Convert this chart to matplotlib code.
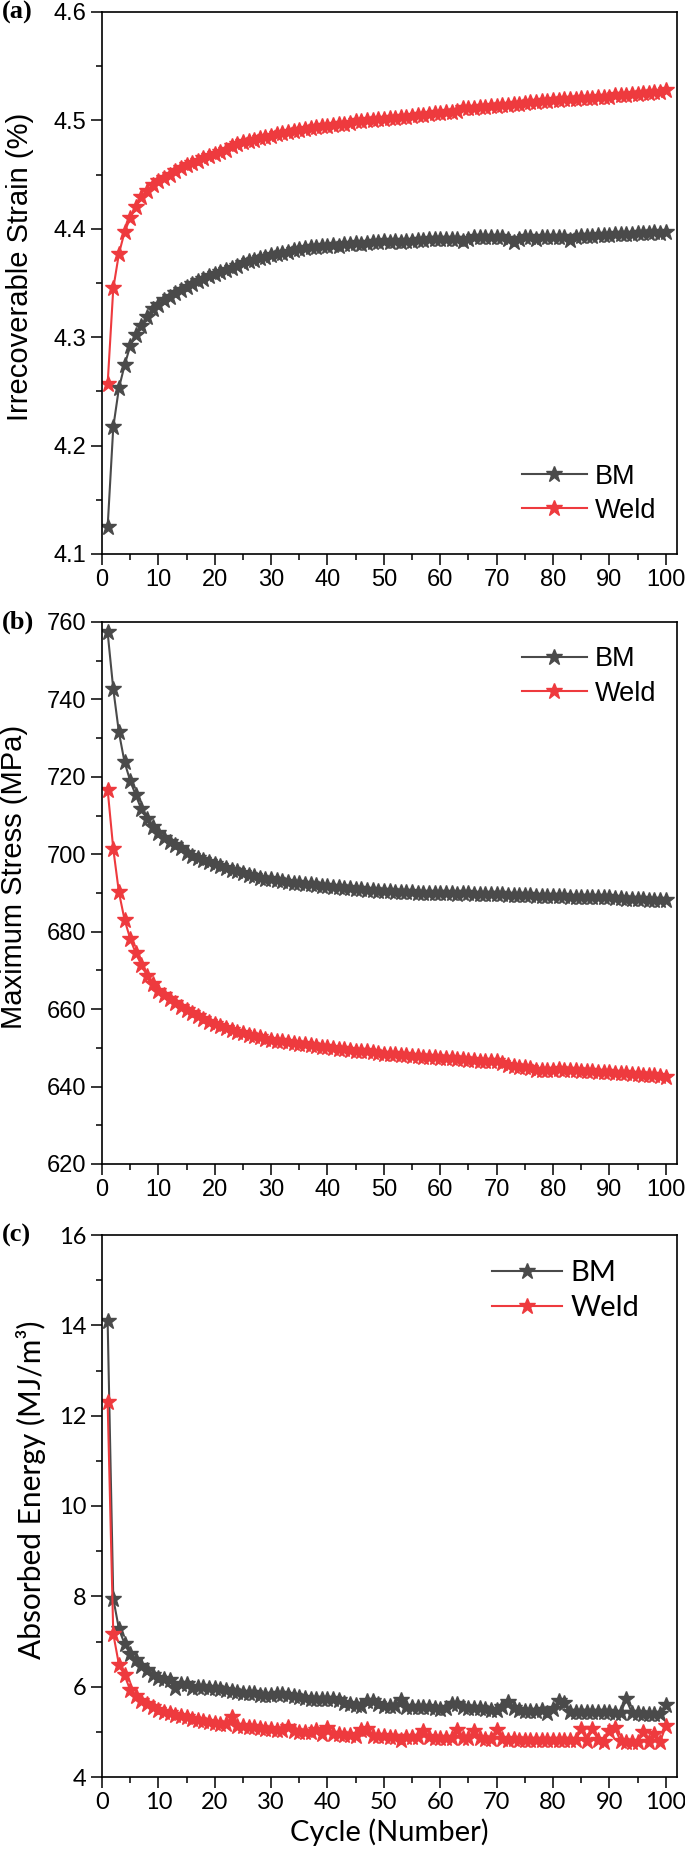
import numpy as np
import matplotlib
matplotlib.use('Agg')
import matplotlib.pyplot as plt
from matplotlib.ticker import MultipleLocator

cycles = list(range(1, 101))
series_names = ['BM', 'Weld']

# (a) irrecoverable strain, %
strain_bm = [
	4.125, 4.217, 4.253, 4.274, 4.292, 4.302, 4.310, 4.319, 4.326, 4.330,
	4.334, 4.337, 4.341, 4.344, 4.346, 4.349, 4.352, 4.354, 4.356, 4.358,
	4.360, 4.362, 4.364, 4.366, 4.368, 4.370, 4.371, 4.373, 4.374, 4.376,
	4.377, 4.378, 4.379, 4.380, 4.381, 4.382, 4.383, 4.383, 4.384, 4.384,
	4.385, 4.384, 4.386, 4.386, 4.387, 4.386, 4.387, 4.388, 4.388, 4.389,
	4.388, 4.389, 4.388, 4.389, 4.389, 4.390, 4.390, 4.391, 4.391, 4.391,
	4.391, 4.391, 4.391, 4.389, 4.391, 4.392, 4.392, 4.392, 4.392, 4.392,
	4.392, 4.391, 4.388, 4.391, 4.392, 4.392, 4.391, 4.392, 4.392, 4.392,
	4.392, 4.392, 4.390, 4.392, 4.393, 4.393, 4.393, 4.394, 4.394, 4.394,
	4.395, 4.395, 4.395, 4.395, 4.396, 4.396, 4.396, 4.397, 4.396, 4.397]
strain_weld = [
	4.257, 4.345, 4.377, 4.397, 4.410, 4.420, 4.429, 4.435, 4.440, 4.444,
	4.447, 4.450, 4.453, 4.456, 4.459, 4.461, 4.463, 4.465, 4.467, 4.469,
	4.471, 4.473, 4.476, 4.478, 4.480, 4.481, 4.482, 4.484, 4.485, 4.486,
	4.487, 4.488, 4.489, 4.490, 4.491, 4.492, 4.493, 4.494, 4.495, 4.495,
	4.496, 4.497, 4.497, 4.498, 4.499, 4.499, 4.500, 4.500, 4.501, 4.501,
	4.502, 4.502, 4.503, 4.503, 4.504, 4.505, 4.505, 4.506, 4.507, 4.507,
	4.508, 4.508, 4.509, 4.511, 4.511, 4.511, 4.512, 4.512, 4.513, 4.513,
	4.514, 4.514, 4.515, 4.515, 4.516, 4.517, 4.517, 4.518, 4.518, 4.519,
	4.519, 4.520, 4.520, 4.520, 4.521, 4.521, 4.521, 4.522, 4.522, 4.522,
	4.523, 4.523, 4.523, 4.524, 4.524, 4.525, 4.525, 4.526, 4.526, 4.528]

# (b) maximum stress, MPa
stress_bm = [
	757.3, 742.7, 731.5, 723.8, 719.0, 715.2, 711.6, 709.1, 707.0, 705.5,
	704.2, 703.3, 702.5, 701.5, 700.4, 699.6, 699.0, 698.4, 697.9, 697.4,
	696.9, 696.5, 696.0, 695.6, 695.1, 694.7, 694.4, 694.0, 693.7, 693.5,
	693.3, 693.1, 692.9, 692.7, 692.5, 692.3, 692.2, 692.0, 691.9, 691.8,
	691.6, 691.5, 691.4, 691.2, 691.1, 691.0, 690.9, 690.8, 690.6, 690.4,
	690.4, 690.3, 690.3, 690.2, 690.2, 690.1, 690.1, 690.0, 690.0, 690.0,
	689.9, 689.9, 689.8, 689.9, 689.9, 689.8, 689.7, 689.7, 689.7, 689.7,
	689.8, 689.6, 689.5, 689.5, 689.4, 689.4, 689.3, 689.3, 689.3, 689.2,
	689.1, 689.1, 689.0, 689.0, 689.0, 688.9, 688.9, 688.9, 688.9, 688.9,
	688.7, 688.6, 688.5, 688.5, 688.4, 688.4, 688.3, 688.3, 688.2, 688.2]
stress_weld = [
	716.7, 701.4, 690.2, 683.1, 678.2, 674.4, 671.4, 668.6, 666.6, 664.8,
	663.6, 662.6, 661.6, 660.6, 659.7, 658.9, 658.2, 657.5, 656.8, 656.1,
	655.6, 655.1, 654.6, 654.2, 653.8, 653.4, 653.1, 652.7, 652.4, 652.1,
	651.9, 651.7, 651.5, 651.3, 651.1, 650.9, 650.7, 650.5, 650.3, 650.1,
	650.0, 649.8, 649.7, 649.5, 649.3, 649.2, 649.1, 648.9, 648.7, 648.5,
	648.4, 648.3, 648.2, 648.1, 648.0, 647.9, 647.6, 647.6, 647.6, 647.5,
	647.4, 647.4, 647.2, 647.0, 646.9, 646.8, 646.7, 646.6, 646.6, 646.5,
	646.2, 645.6, 645.3, 645.1, 645.0, 644.8, 644.3, 644.4, 644.4, 644.4,
	644.5, 644.4, 644.3, 644.2, 644.1, 644.0, 643.9, 643.8, 643.8, 643.7,
	643.6, 643.5, 643.4, 643.3, 643.2, 643.1, 643.0, 642.9, 642.7, 642.6]

# (c) absorbed energy, MJ/m3
energy_bm = [
	14.09, 7.95, 7.28, 6.95, 6.72, 6.58, 6.46, 6.37, 6.25, 6.20,
	6.17, 6.14, 5.98, 6.07, 6.05, 5.96, 6.00, 5.99, 5.97, 5.97,
	5.95, 5.93, 5.90, 5.88, 5.87, 5.86, 5.85, 5.82, 5.82, 5.82,
	5.83, 5.84, 5.82, 5.80, 5.77, 5.74, 5.73, 5.72, 5.73, 5.72,
	5.72, 5.70, 5.63, 5.62, 5.60, 5.58, 5.68, 5.68, 5.62, 5.58,
	5.58, 5.58, 5.70, 5.55, 5.54, 5.54, 5.54, 5.54, 5.53, 5.50,
	5.53, 5.62, 5.62, 5.55, 5.52, 5.53, 5.52, 5.50, 5.49, 5.49,
	5.56, 5.66, 5.52, 5.49, 5.47, 5.47, 5.47, 5.49, 5.42, 5.50,
	5.68, 5.64, 5.45, 5.44, 5.44, 5.44, 5.45, 5.45, 5.45, 5.43,
	5.42, 5.42, 5.72, 5.42, 5.41, 5.40, 5.40, 5.40, 5.40, 5.60]
energy_weld = [
	12.30, 7.17, 6.49, 6.25, 5.93, 5.79, 5.69, 5.62, 5.55, 5.49,
	5.45, 5.42, 5.38, 5.35, 5.32, 5.29, 5.26, 5.23, 5.21, 5.19,
	5.18, 5.18, 5.32, 5.13, 5.13, 5.11, 5.10, 5.09, 5.07, 5.06,
	5.05, 5.04, 5.10, 5.02, 5.00, 4.99, 4.99, 5.03, 4.96, 5.08,
	4.96, 4.95, 4.93, 4.92, 4.91, 5.05, 5.06, 4.91, 4.90, 4.90,
	4.89, 4.89, 4.81, 4.88, 4.88, 4.88, 5.02, 4.88, 4.87, 4.87,
	4.86, 4.87, 5.03, 4.86, 4.86, 5.01, 4.86, 4.85, 4.84, 5.03,
	4.84, 4.81, 4.85, 4.83, 4.83, 4.83, 4.83, 4.81, 4.82, 4.82,
	4.82, 4.82, 4.81, 4.81, 5.06, 4.80, 5.06, 4.82, 4.78, 5.02,
	5.08, 4.79, 4.78, 4.78, 4.78, 4.99, 4.77, 4.96, 4.78, 5.12]

colors = ['#4a4a4a', '#ee3a3e']
W, H = 685, 1862


def panel(top_px, ylim, ymaj, ymin, ylabel, font, label_x, tag, leg_loc, leg_anchor,
		  leg_size=19.5, lab_size=21):
	ax = fig.add_axes([102/W, 1 - (top_px + 542)/H, 575/W, 542/H])
	for k in range(2):
		ax.plot(cycles, data[tag][k], color=colors[k], marker='*', ms=12, lw=1.5,
				label=series_names[k])
	ax.set_xlim(0, 102)
	ax.set_ylim(*ylim)
	ax.xaxis.set_major_locator(MultipleLocator(10))
	ax.xaxis.set_minor_locator(MultipleLocator(5))
	ax.yaxis.set_major_locator(MultipleLocator(ymaj))
	ax.yaxis.set_minor_locator(MultipleLocator(ymin))
	ax.tick_params(which='both', direction='out', top=False, right=False, width=1.1,
				   labelsize=17, pad=3)
	ax.tick_params(which='major', length=8)
	ax.tick_params(which='minor', length=4.5)
	for t in ax.get_xticklabels() + ax.get_yticklabels():
		t.set_family(font)
	for s in ax.spines.values():
		s.set_linewidth(1.2)
	ax.set_ylabel(ylabel, fontsize=lab_size, family=font)
	# origin puts the axis title a bit above the middle
	ax.yaxis.set_label_coords(label_x, 0.53)
	ax.legend(loc=leg_loc, bbox_to_anchor=leg_anchor, frameon=False,
			  prop={'family': font, 'size': leg_size}, handlelength=2.4,
			  handletextpad=0.3, labelspacing=0.3, borderaxespad=0)
	fig.text(2/W, 1 - top_px/H, '(%s)' % tag, ha='left', va='center',
			 family='Liberation Serif', weight='bold', fontsize=19)
	return ax


data = {'a': (strain_bm, strain_weld),
		'b': (stress_bm, stress_weld),
		'c': (energy_bm, energy_weld)}

fig = plt.figure(figsize=(W/100, H/100), dpi=100)

ax1 = panel(12, (4.1, 4.6), 0.1, 0.05, 'Irrecoverable Strain (%)', 'Liberation Sans',
			-0.118, 'a', 'lower right', (0.983, 0.036))
ax2 = panel(622, (620, 760), 20, 10, 'Maximum Stress (MPa)', 'Liberation Sans',
			-0.129, 'b', 'upper right', (0.983, 0.975))
ax3 = panel(1235, (4, 16), 2, 1, 'Absorbed Energy (MJ/m³)', 'Lato',
			-0.097, 'c', 'upper right', (0.955, 0.975), leg_size=21, lab_size=21.5)
ax3.set_xlabel('Cycle (Number)', fontsize=21, family='Lato')

fig.savefig('out.png', dpi=100)
